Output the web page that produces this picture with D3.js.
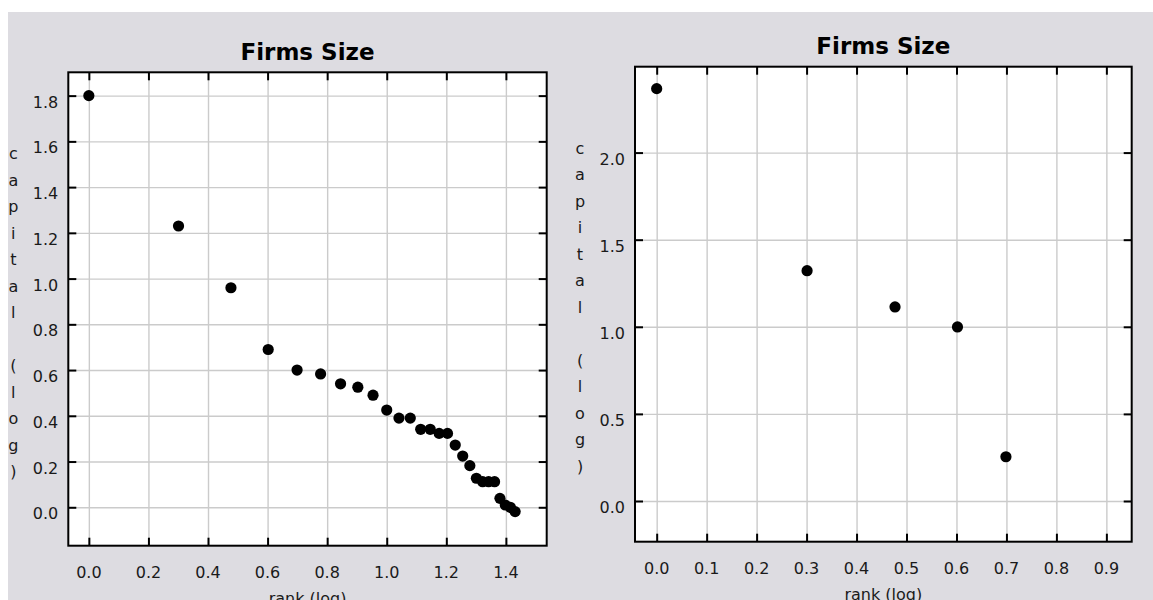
<!DOCTYPE html>
<html>
<head>
<meta charset="utf-8">
<script src="https://cdn.jsdelivr.net/npm/d3@7/dist/d3.min.js"></script>
<style>
  html, body { margin: 0; padding: 0; background: #ffffff; }
  svg { display: block; }
  text { font-family: "DejaVu Sans", sans-serif; fill: #1a1a1a; }
</style>
</head>
<body>
<svg id="chart" width="1153" height="600"></svg>
<script>
// Firms size: log capital against log rank, two runs side by side.

// Left panel (27 firms)
const leftRankLog = [0.000, 0.301, 0.477, 0.602, 0.699, 0.778, 0.845, 0.903, 0.954,
  1.000, 1.041, 1.079, 1.114, 1.146, 1.176, 1.204, 1.230, 1.255, 1.279,
  1.301, 1.322, 1.342, 1.362, 1.380, 1.398, 1.415, 1.431];
const leftCapitalLog = [1.80, 1.23, 0.96, 0.69, 0.60, 0.583, 0.54, 0.525, 0.49,
  0.425, 0.39, 0.39, 0.341, 0.341, 0.323, 0.323, 0.272, 0.224, 0.182,
  0.127, 0.112, 0.112, 0.112, 0.039, 0.010, 0.000, -0.019];
const leftXTicks = [0.0, 0.2, 0.4, 0.6, 0.8, 1.0, 1.2, 1.4];
const leftYTicks = [0.0, 0.2, 0.4, 0.6, 0.8, 1.0, 1.2, 1.4, 1.6, 1.8];

// Right panel (5 firms)
const rightRankLog = [0.000, 0.301, 0.477, 0.602, 0.699];
const rightCapitalLog = [2.367, 1.322, 1.114, 0.999, 0.254];
const rightXTicks = [0.0, 0.1, 0.2, 0.3, 0.4, 0.5, 0.6, 0.7, 0.8, 0.9];
const rightYTicks = [0.0, 0.5, 1.0, 1.5, 2.0];

const titleText = "Firms Size";
const xLabelText = "rank (log)";
const yLabelText = "capital (log)";

const svg = d3.select("#chart");

// panel background
svg.append("rect")
  .attr("x", 8).attr("y", 12)
  .attr("width", 1153 - 8).attr("height", 600 - 12)
  .attr("fill", "#dddce1");

const fmt = d3.format(".1f");

function drawPanel(cfg) {
  const { left, right, top, bottom, xDomain, yDomain, xs, ys, xTicks, yTicks } = cfg;
  const x = d3.scaleLinear().domain(xDomain).range([left, right]);
  const y = d3.scaleLinear().domain(yDomain).range([bottom, top]);
  const g = svg.append("g");

  // plotting area
  g.append("rect")
    .attr("x", left).attr("y", top)
    .attr("width", right - left).attr("height", bottom - top)
    .attr("fill", "#ffffff");

  // grid
  const tickLen = 8;
  g.append("g").call(
    d3.axisBottom(x).tickValues(xTicks).tickSize(-(bottom - top)).tickFormat("")
  ).attr("transform", `translate(0,${bottom})`)
   .call(a => a.select(".domain").remove())
   .call(a => a.selectAll("line").attr("stroke", "#cbcbcb").attr("stroke-width", 1.4));
  g.append("g").call(
    d3.axisLeft(y).tickValues(yTicks).tickSize(-(right - left)).tickFormat("")
  ).attr("transform", `translate(${left},0)`)
   .call(a => a.select(".domain").remove())
   .call(a => a.selectAll("line").attr("stroke", "#cbcbcb").attr("stroke-width", 1.4));

  // inward ticks on all four sides
  const tickStyle = a => {
    a.select(".domain").remove();
    a.selectAll("line").attr("stroke", "#000").attr("stroke-width", 2);
  };
  g.append("g").attr("transform", `translate(0,${bottom})`)
    .call(d3.axisBottom(x).tickValues(xTicks).tickSize(-tickLen).tickFormat("")).call(tickStyle);
  g.append("g").attr("transform", `translate(0,${top})`)
    .call(d3.axisTop(x).tickValues(xTicks).tickSize(-tickLen).tickFormat("")).call(tickStyle);
  g.append("g").attr("transform", `translate(${left},0)`)
    .call(d3.axisLeft(y).tickValues(yTicks).tickSize(-tickLen).tickFormat("")).call(tickStyle);
  g.append("g").attr("transform", `translate(${right},0)`)
    .call(d3.axisRight(y).tickValues(yTicks).tickSize(-tickLen).tickFormat("")).call(tickStyle);

  // frame
  g.append("rect")
    .attr("x", left).attr("y", top)
    .attr("width", right - left).attr("height", bottom - top)
    .attr("fill", "none").attr("stroke", "#000").attr("stroke-width", 2);

  // tick labels
  g.selectAll(".xl").data(xTicks).join("text")
    .attr("x", d => x(d)).attr("y", bottom + 32)
    .attr("text-anchor", "middle").attr("font-size", 16)
    .text(d => fmt(d));
  g.selectAll(".yl").data(yTicks).join("text")
    .attr("x", left - 10).attr("y", d => y(d) + 12)
    .attr("text-anchor", "end").attr("font-size", 16)
    .text(d => fmt(d));

  // title
  g.append("text")
    .attr("x", (left + right) / 2).attr("y", top - 12.5)
    .attr("text-anchor", "middle")
    .attr("font-size", 23).attr("font-weight", "bold")
    .style("fill", "#000")
    .text(titleText);

  // x axis label
  g.append("text")
    .attr("x", (left + right) / 2).attr("y", bottom + 58)
    .attr("text-anchor", "middle").attr("font-size", 16)
    .text(xLabelText);

  // y axis label, one character per line
  g.selectAll(".ych").data(Array.from(yLabelText)).join("text")
    .attr("x", left - 55).attr("y", (d, i) => top + 87 + i * 26.5)
    .attr("text-anchor", "middle").attr("font-size", 16)
    .text(d => d);

  // points
  g.selectAll(".pt").data(xs.map((v, i) => [v, ys[i]])).join("circle")
    .attr("cx", d => x(d[0])).attr("cy", d => y(d[1]))
    .attr("r", 5.6).attr("fill", "#000");
}

drawPanel({
  left: 68.3, right: 546.7, top: 72.3, bottom: 545.7,
  xDomain: [-0.069, 1.537], yDomain: [-0.168, 1.902],
  xs: leftRankLog, ys: leftCapitalLog, xTicks: leftXTicks, yTicks: leftYTicks
});

drawPanel({
  left: 635, right: 1131.7, top: 66.7, bottom: 541.7,
  xDomain: [-0.0434, 0.9507], yDomain: [-0.2336, 2.493],
  xs: rightRankLog, ys: rightCapitalLog, xTicks: rightXTicks, yTicks: rightYTicks
});
</script>
</body>
</html>
